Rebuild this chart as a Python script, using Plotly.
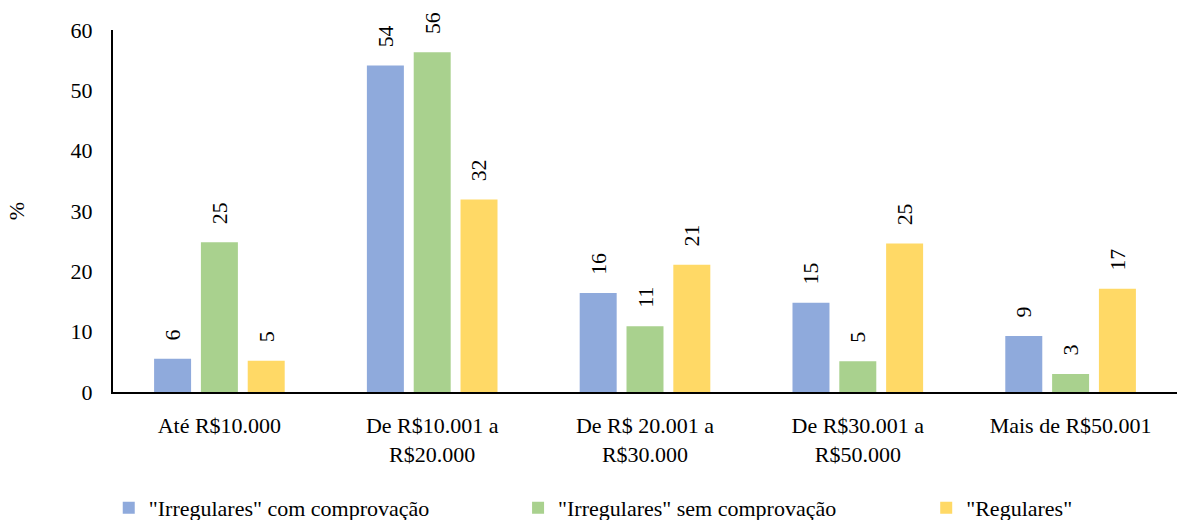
import plotly.graph_objects as go

categories = ["Até R$10.000", "De R$10.001 a<br>R$20.000", "De R$ 20.001 a<br>R$30.000",
              "De R$30.001 a<br>R$50.000", "Mais de R$50.001"]
series_names = ['"Irregulares" com comprovação', '"Irregulares" sem comprovação', '"Regulares"']
irreg_com = [5.5, 54.1, 16.4, 14.8, 9.3]
irreg_sem = [24.8, 56.3, 10.9, 5.1, 3.0]
regulares = [5.2, 31.9, 21.1, 24.6, 17.1]
labels_com = ["6", "54", "16", "15", "9"]
labels_sem = ["25", "56", "11", "5", "3"]
labels_reg = ["5", "32", "21", "25", "17"]
y_ticks = [0, 10, 20, 30, 40, 50, 60]

colors = ["#8FAADC", "#A9D18E", "#FFD966"]
FONT = "Liberation Serif, Times New Roman, serif"
FS = 22
legend_ids = ["legend", "legend2", "legend3"]
legend_x = [-0.004, 0.3807, 0.7643]

fig = go.Figure()
for name, vals, labs, col, lid in zip(series_names, [irreg_com, irreg_sem, regulares],
                                      [labels_com, labels_sem, labels_reg], colors, legend_ids):
    fig.add_trace(go.Bar(
        x=categories, y=vals, name=name, marker=dict(color=col, line=dict(width=0)),
        text=labs, texttemplate="\u00a0\u00a0\u2009%{text}", textposition="outside", textangle=-90,
        textfont=dict(family=FONT, size=FS, color="black"),
        cliponaxis=False, legend=lid,
    ))

leg_common = dict(orientation="h", xanchor="left", y=-0.32, yanchor="middle",
                  font=dict(family=FONT, size=FS, color="black"), bgcolor="rgba(0,0,0,0)")
fig.update_layout(
    width=1177, height=520,
    margin=dict(l=113, r=0, t=30, b=128, autoexpand=False),
    plot_bgcolor="white", paper_bgcolor="white",
    barmode="group", bargap=0.34, bargroupgap=0.21,
    font=dict(family=FONT, size=FS, color="black"),
    showlegend=True,
    legend=dict(x=legend_x[0], **leg_common),
    legend2=dict(x=legend_x[1], **leg_common),
    legend3=dict(x=legend_x[2], **leg_common),
)
fig.update_xaxes(showline=True, linecolor="black", linewidth=2, ticks="",
                 tickfont=dict(family=FONT, size=FS, color="black"),
                 showgrid=False, zeroline=False, ticklabelstandoff=13, automargin=False)
fig.update_yaxes(range=[0, 60], tickvals=y_ticks, showline=True, linecolor="black", linewidth=2,
                 ticks="", showgrid=False, zeroline=False, automargin=False,
                 tickfont=dict(family=FONT, size=FS, color="black"),
                 ticklabelstandoff=14,
                 title=dict(text="%", font=dict(family=FONT, size=FS, color="black"), standoff=40))

fig.write_html("out.html")
